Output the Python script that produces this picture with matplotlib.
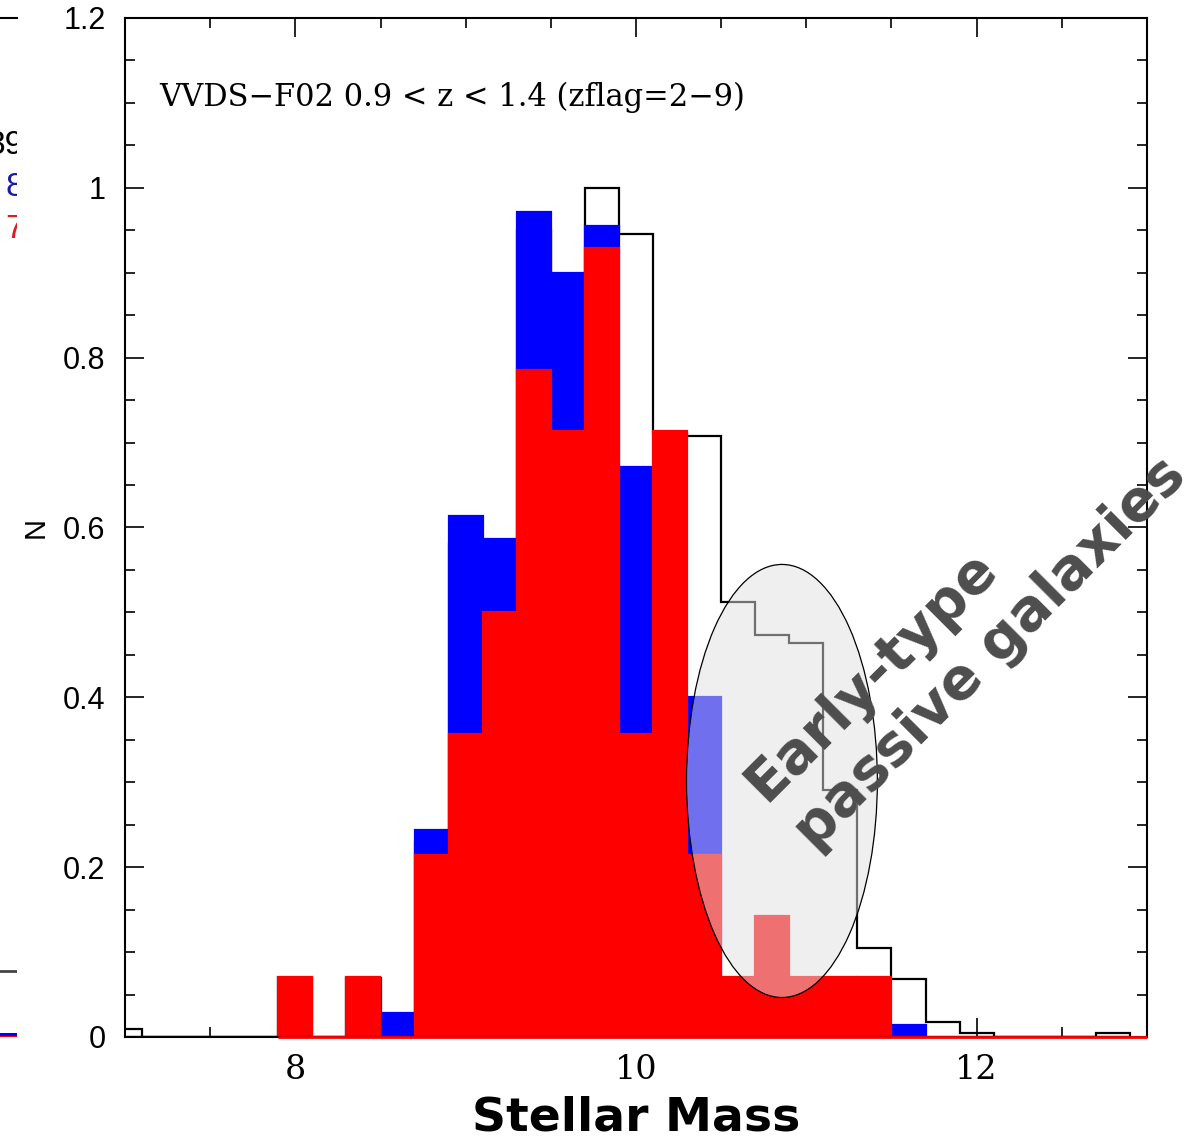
import matplotlib
matplotlib.use("Agg")
import matplotlib.pyplot as plt
import numpy as np
from matplotlib.patches import Ellipse
from matplotlib.ticker import MultipleLocator

# stellar mass bins, 0.2 dex wide, centred on 7.0 ... 12.8
mass_bins = np.round(np.arange(7.0, 12.81, 0.2), 1)

# whole VVDS-F02 sample (black outline)
n_all = [0.01, 0.0, 0.0, 0.0, 0.0, 0.07, 0.0, 0.07, 0.025, 0.23,
         0.58, 0.57, 0.95, 0.88, 1.0, 0.946, 0.71, 0.708, 0.512, 0.473,
         0.464, 0.291, 0.105, 0.068, 0.018, 0.005, 0.0, 0.0, 0.0, 0.005]

# blue and red sub-samples
n_blue = [0.0, 0.0, 0.0, 0.0, 0.0, 0.0, 0.0, 0.0, 0.028, 0.244,
          0.614, 0.587, 0.971, 0.9, 0.955, 0.671, 0.0, 0.4, 0.0, 0.0,
          0.0, 0.0, 0.0, 0.014, 0.0, 0.0, 0.0, 0.0, 0.0, 0.0]
n_red = [0.0, 0.0, 0.0, 0.0, 0.0, 0.071, 0.0, 0.071, 0.0, 0.214,
         0.357, 0.5, 0.786, 0.714, 0.929, 0.357, 0.714, 0.214, 0.071, 0.143,
         0.071, 0.071, 0.071, 0.0, 0.0, 0.0, 0.0, 0.0, 0.0, 0.0]

# neighbouring panel, only its right edge is in the frame
side_labels = ["39", "8", "7"]
side_colors = ["black", "#1a1aa8", "#d42020"]
side_all = 0.078
side_blue = 0.005

bw = 0.2
edges = np.append(mass_bins - bw / 2, mass_bins[-1] + bw / 2)
step_lw = 1.6

W, H = 1194, 1141
fig = plt.figure(figsize=(W / 100, H / 100), dpi=100)

ax_l, ax_r, ax_b, ax_t = 125 / W, 1147 / W, 1 - 1037 / H, 1 - 18 / H
ax = fig.add_axes([ax_l, ax_b, ax_r - ax_l, ax_t - ax_b])

ax.stairs(n_all, edges, color="black", lw=step_lw, zorder=1)
# bars get an edge of their own colour so the outline underneath is covered
ax.bar(mass_bins, n_blue, width=bw, color="#0000ff", ec="#0000ff",
       lw=step_lw, zorder=2)
ax.bar(mass_bins, n_red, width=bw, color="#ff0000", ec="#ff0000",
       lw=step_lw, zorder=2.1)
ax.plot([edges[5], 13.0], [0, 0], color="#ff0000", lw=2, zorder=3,
        clip_on=False, solid_capstyle="butt")

ax.set_xlim(7, 13)
ax.set_ylim(0, 1.2)
ax.xaxis.set_major_locator(MultipleLocator(2))
ax.xaxis.set_minor_locator(MultipleLocator(0.5))
ax.yaxis.set_major_locator(MultipleLocator(0.2))
ax.yaxis.set_minor_locator(MultipleLocator(0.05))
ax.yaxis.set_major_formatter(lambda v, p: f"{v:g}")
ax.tick_params(which="both", direction="in", top=True, right=True, width=1.2)
ax.tick_params(which="major", length=14)
ax.tick_params(which="minor", length=7)
ax.tick_params(axis="y", pad=14, labelsize=22)
ax.tick_params(axis="x", pad=12, labelsize=24)
for lab in ax.get_yticklabels():
    lab.set_family("Liberation Sans")
for lab in ax.get_xticklabels():
    lab.set_family("DejaVu Serif")
for sp in ax.spines.values():
    sp.set_linewidth(1.5)

ax.set_ylabel("N", fontsize=21, family="Liberation Sans", labelpad=10)
ax.set_xlabel("Stellar Mass", fontsize=34, fontweight="bold", labelpad=7)

ax.text(7.2, 1.107, "VVDS\u2212F02 0.9 < z < 1.4 (zflag=2\u22129)",
        fontsize=22, family="DejaVu Serif", va="center", ha="left")

ell = Ellipse((10.857, 0.3015), 1.12, 0.51, facecolor=(0.878, 0.878, 0.878, 0.5),
              edgecolor="black", lw=0.9, zorder=4)
ax.add_patch(ell)
ax.text(11.94, 0.48, "Early-type\npassive galaxies", rotation=45,
        fontsize=41, fontweight="bold", color="#4d4d4d", ha="center",
        va="center", multialignment="left", linespacing=1.3,
        zorder=5, clip_on=False)

# sliver of the panel on the left
ax0 = fig.add_axes([-0.3, ax_b, 0.3 + 17 / W, ax_t - ax_b])
ax0.set_xlim(0, 1)
ax0.set_ylim(0, 1.2)
ax0.set_xticks([])
ax0.set_yticks([])
for side in ["left", "right", "bottom"]:
    ax0.spines[side].set_visible(False)
ax0.spines["top"].set_linewidth(1.5)
ax0.plot([0.5, 1.0], [side_all, side_all], color="#444444", lw=2)
ax0.bar(0.9, side_blue, width=0.2, color="#0000ff", lw=0)
ax0.plot([0.5, 1.0], [0, 0], color="#ff0000", lw=1.5)
for lab, c, ypix in zip(side_labels, side_colors, [145, 187, 230]):
    ax0.text(24 / W, 1 - ypix / H, lab, transform=fig.transFigure, color=c,
             fontsize=24, family="Liberation Sans", ha="right", va="center",
             clip_on=True)

fig.savefig("out.png", dpi=100)
